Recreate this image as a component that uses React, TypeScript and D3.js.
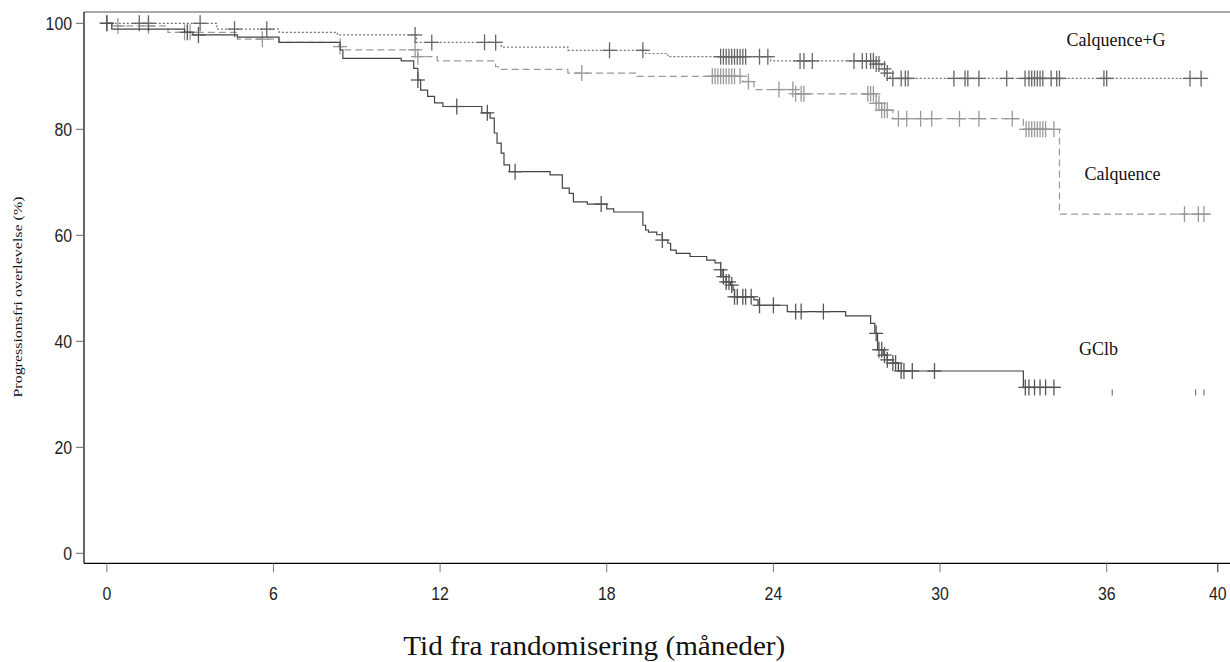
import { useEffect, useRef } from "react";
import * as d3 from "d3";

const xTicks = [0, 6, 12, 18, 24, 30, 36, 40];
const yTicks = [0, 20, 40, 60, 80, 100];

// KM steps: [months, survival %] — value from that time on
const gclbSteps: [number, number][] = [
  [0, 100], [0.18, 98.9], [2.8, 98.3], [3.1, 97.8], [4.7, 97.4], [6.2, 96.4], [8.4, 95.0], [8.5, 93.4],
  [10.6, 92.9], [11.05, 91.5], [11.2, 89.3], [11.3, 87.4], [11.55, 86.2], [11.8, 85.0], [12.1, 84.3],
  [13.5, 83.1], [13.8, 82.1], [13.95, 79.3], [14.05, 77.4], [14.2, 75.5], [14.3, 73.3], [14.5, 72.0],
  [15.96, 71.4], [16.4, 68.9], [16.65, 67.9], [16.8, 66.3], [17.3, 65.9], [18.0, 65.0], [18.25, 64.4],
  [19.3, 61.9], [19.4, 61.0], [19.5, 60.6], [19.8, 60.1], [20.0, 59.1], [20.2, 58.5], [20.3, 57.2],
  [20.5, 56.6], [21.0, 56.0], [21.6, 55.3], [21.9, 54.8], [22.1, 53.5], [22.15, 52.2], [22.3, 51.2],
  [22.45, 50.6], [22.55, 49.7], [22.6, 48.4], [23.3, 47.8], [23.45, 46.8], [24.5, 45.6], [26.6, 44.8],
  [27.5, 43.4], [27.65, 41.5], [27.75, 38.4], [27.95, 37.4], [28.1, 36.5], [28.3, 35.9], [28.5, 34.4],
  [33.0, 31.3],
];
const gclbEnd = 34.3;
const gclbCensor = [
  0, 2.9, 3.3, 11.2, 12.6, 13.7, 14.7, 17.8, 20.0, 22.1, 22.2, 22.3, 22.4, 22.5, 22.6, 22.7, 22.9, 23.0,
  23.2, 23.5, 24.0, 24.8, 25.0, 25.8, 27.7, 27.8, 27.9, 28.0, 28.1, 28.3, 28.4, 28.6, 28.7, 29.0, 29.8,
  33.07, 33.2, 33.4, 33.6, 33.8, 34.1,
];
const gclbLate = [36.2, 39.2, 39.5];

const calqGSteps: [number, number][] = [
  [0, 100], [3.96, 98.9], [6.2, 98.3], [8.3, 97.8], [11.15, 96.4], [14.2, 95.5], [16.6, 94.9],
  [19.4, 94.3], [20.2, 93.7], [23.9, 92.9], [27.7, 92.3], [27.9, 91.4], [28.05, 90.6], [28.2, 89.6],
];
const calqGEnd = 39.6;
const calqGCensor = [
  0, 1.17, 1.5, 3.36, 4.6, 5.76, 11.1, 11.7, 13.6, 14.0, 18.1, 19.3, 22.1, 22.2, 22.3, 22.4, 22.5, 22.6,
  22.7, 22.8, 22.9, 23.0, 23.5, 23.8, 24.96, 25.1, 25.4, 26.9, 27.2, 27.35, 27.5, 27.6, 27.7, 27.8, 28.0,
  28.1, 28.3, 28.6, 28.75, 28.85, 30.5, 30.9, 31.0, 31.4, 32.4, 33.06, 33.2, 33.3, 33.4, 33.5, 33.6, 33.7,
  34.0, 34.2, 34.3, 35.9, 36.0, 39.0, 39.4,
];

const calqSteps: [number, number][] = [
  [0, 100], [0.2, 99.5], [2.2, 98.3], [4.7, 97.0], [6.2, 96.4], [8.35, 95.6], [8.5, 95.0], [11.2, 93.7],
  [11.9, 92.9], [14.0, 91.8], [14.1, 91.3], [16.6, 90.6], [19.1, 90.0], [22.9, 89.0], [23.3, 87.5],
  [24.8, 86.7], [27.7, 84.9], [27.9, 83.6], [28.3, 82.0], [33.0, 80.0], [34.3, 64.0],
];
const calqEnd = 39.7;
const calqCensor = [
  0.4, 1.5, 2.8, 3.0, 5.6, 8.4, 11.1, 11.2, 17.1, 21.8, 21.9, 22.0, 22.1, 22.2, 22.3, 22.4, 22.5, 22.6,
  22.8, 23.1, 24.2, 24.7, 24.8, 25.0, 25.1, 27.4, 27.5, 27.6, 27.7, 27.8, 27.9, 28.0, 28.1, 28.5, 28.8,
  29.3, 29.7, 30.7, 31.4, 32.6, 33.1, 33.2, 33.3, 33.4, 33.5, 33.6, 33.7, 33.8, 34.1, 38.8, 39.3, 39.5,
];

const series = [
  { name: "Calquence", steps: calqSteps, end: calqEnd, censor: calqCensor, color: "#9a9a9a", dash: "7,4", markColor: "#999" },
  { name: "Calquence+G", steps: calqGSteps, end: calqGEnd, censor: calqGCensor, color: "#777", dash: "2,2", markColor: "#666" },
  { name: "GClb", steps: gclbSteps, end: gclbEnd, censor: gclbCensor, color: "#444", dash: null, markColor: "#555" },
];

const labels = [
  { text: "Calquence+G", t: 34.55, v: 95.7 },
  { text: "Calquence", t: 35.2, v: 70.4 },
  { text: "GClb", t: 35.0, v: 37.4 },
];

const valueAt = (steps: [number, number][], t: number) => {
  let v = steps[0][1];
  for (const s of steps) if (s[0] <= t) v = s[1];
  return v;
};

export default function App() {
  const ref = useRef<SVGSVGElement>(null);

  useEffect(() => {
    const svg = d3.select(ref.current);
    svg.selectAll("*").remove();

    const x = d3.scaleLinear().domain([0, 40]).range([106.8, 1217.8]);
    const y = d3.scaleLinear().domain([0, 100]).range([553.3, 23.3]);
    const left = 84, top = 12, bottom = 563.3, right = 1230;

    // frame
    svg.append("line").attr("x1", left).attr("x2", right).attr("y1", top).attr("y2", top)
      .attr("stroke", "#555").attr("stroke-width", 1);
    svg.append("line").attr("x1", left).attr("x2", left).attr("y1", top).attr("y2", bottom)
      .attr("stroke", "#000").attr("stroke-width", 1.2);
    svg.append("line").attr("x1", left).attr("x2", right).attr("y1", bottom).attr("y2", bottom)
      .attr("stroke", "#000").attr("stroke-width", 1.2);

    const tickFont = "'Liberation Sans', Arial, sans-serif";
    const narrow = 0.88; // tick numbers are a condensed face

    const gy = svg.append("g");
    gy.selectAll("line").data(yTicks).join("line")
      .attr("x1", left - 8).attr("x2", left).attr("y1", (d) => y(d)).attr("y2", (d) => y(d))
      .attr("stroke", "#666");
    gy.selectAll("text").data(yTicks).join("text")
      .attr("transform", (d) => `translate(${left - 12},${y(d)}) scale(${narrow},1)`)
      .attr("dy", "0.36em")
      .attr("text-anchor", "end").attr("font-family", tickFont).attr("font-size", 18).attr("fill", "#222")
      .text((d) => d);

    const gx = svg.append("g");
    gx.selectAll("line").data(xTicks).join("line")
      .attr("x1", (d) => x(d)).attr("x2", (d) => x(d)).attr("y1", bottom).attr("y2", bottom + 9)
      .attr("stroke", (d) => (d === 40 ? "#222" : "#777"));
    gx.selectAll("text").data(xTicks).join("text")
      .attr("transform", (d) => `translate(${x(d)},593.3) scale(${narrow},1)`)
      .attr("dy", "0.36em")
      .attr("text-anchor", "middle").attr("font-family", tickFont).attr("font-size", 18).attr("fill", "#222")
      .text((d) => d);

    svg.append("text")
      .attr("transform", "translate(22,297) rotate(-90)")
      .attr("text-anchor", "middle").attr("font-family", "'Liberation Serif', serif").attr("font-size", 13)
      .attr("textLength", 201).attr("lengthAdjust", "spacingAndGlyphs").attr("fill", "#111")
      .text("Progressionsfri overlevelse (%)");

    svg.append("text")
      .attr("x", 403.3).attr("y", 655)
      .attr("font-family", "'Liberation Serif', serif").attr("font-size", 28)
      .attr("textLength", 382).attr("lengthAdjust", "spacingAndGlyphs").attr("fill", "#111")
      .text("Tid fra randomisering (måneder)");

    const line = d3.line<[number, number]>().x((d) => x(d[0])).y((d) => y(d[1])).curve(d3.curveStepAfter);

    series.forEach((s) => {
      const pts: [number, number][] = [...s.steps, [s.end, s.steps[s.steps.length - 1][1]]];
      svg.append("path").attr("d", line(pts)).attr("fill", "none")
        .attr("stroke", s.color).attr("stroke-width", 1.2)
        .attr("stroke-dasharray", s.dash);

      const marks = svg.append("g").attr("stroke", s.markColor).attr("stroke-width", 1.3);
      s.censor.forEach((t) => {
        const cx = x(t), cy = y(valueAt(s.steps, t));
        marks.append("line").attr("x1", cx).attr("x2", cx).attr("y1", cy - 8).attr("y2", cy + 8);
        marks.append("line").attr("x1", cx - 7).attr("x2", cx + 7).attr("y1", cy).attr("y2", cy);
      });
    });

    const late = svg.append("g").attr("stroke", "#777").attr("stroke-width", 1.2);
    gclbLate.forEach((t) => {
      const cy = y(valueAt(gclbSteps, t)) + 5;
      late.append("line").attr("x1", x(t)).attr("x2", x(t)).attr("y1", cy - 3).attr("y2", cy + 3);
    });

    svg.append("g").selectAll("text").data(labels).join("text")
      .attr("x", (d) => x(d.t)).attr("y", (d) => y(d.v))
      .attr("font-family", "'Liberation Serif', serif").attr("font-size", 18).attr("fill", "#111")
      .text((d) => d.text);
  }, []);

  return (
    <svg ref={ref} width={1230} height={662}
      style={{ position: "absolute", left: 0, top: 0, background: "#fff" }} />
  );
}
